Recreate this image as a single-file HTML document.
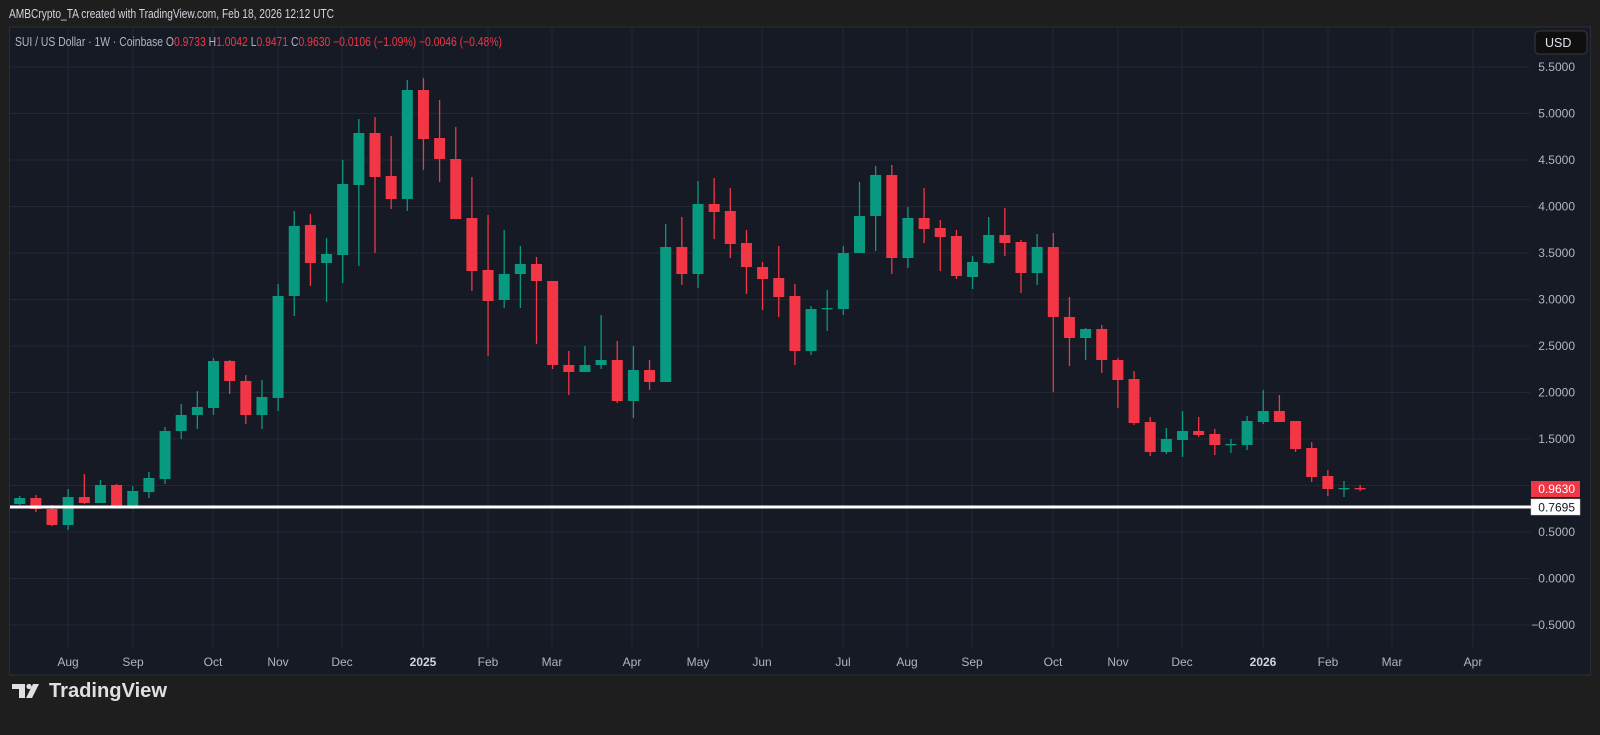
<!DOCTYPE html>
<html><head><meta charset="utf-8"><style>
html,body{margin:0;padding:0;background:#1e1e1e;width:1600px;height:735px;overflow:hidden}
svg text{font-family:"Liberation Sans",sans-serif}
</style></head><body>
<svg id="s" width="1600" height="735" xmlns="http://www.w3.org/2000/svg">
<rect x="0" y="0" width="1600" height="735" fill="#1e1e1e"/>
<rect x="9.5" y="27" width="1581" height="648" fill="#161a25" stroke="#2a2d35" stroke-width="1"/>
<g id="grid" stroke="#242835" stroke-width="1"></g>
<g id="candles"></g>
<line x1="10" y1="507" x2="1531" y2="507" stroke="#ffffff" stroke-width="3"/>
<text x="9" y="18" font-size="12.5" fill="#d1d4dc" textLength="325" lengthAdjust="spacingAndGlyphs">AMBCrypto_TA created with TradingView.com, Feb 18, 2026 12:12 UTC</text>
<text x="15" y="46" font-size="12.5" fill="#b2b5be" textLength="487" lengthAdjust="spacingAndGlyphs">SUI / US Dollar · 1W · Coinbase <tspan fill="#b2b5be">O</tspan><tspan fill="#f23645">0.9733</tspan> <tspan fill="#b2b5be">H</tspan><tspan fill="#f23645">1.0042</tspan> <tspan fill="#b2b5be">L</tspan><tspan fill="#f23645">0.9471</tspan> <tspan fill="#b2b5be">C</tspan><tspan fill="#f23645">0.9630 −0.0106 (−1.09%) −0.0046 (−0.48%)</tspan></text>
<rect x="1535" y="31" width="52" height="23" rx="4" fill="#0f0f0f" stroke="#3a3a3a"/>
<text x="1545" y="47" font-size="12.5" fill="#e0e3eb">USD</text>
<g id="ylab" font-size="12" fill="#b2b5be" text-anchor="end"></g>
<rect x="1531" y="481" width="49" height="16" fill="#f23645"/>
<text x="1575" y="493" font-size="12" fill="#ffffff" text-anchor="end">0.9630</text>
<rect x="1531" y="499" width="49" height="16" fill="#ffffff" stroke="#cccccc" stroke-width="0.5"/>
<text x="1575" y="511.5" font-size="12" fill="#131722" text-anchor="end">0.7695</text>
<g id="xlab" font-size="12" fill="#b2b5be" text-anchor="middle"></g>
<g transform="translate(12,680)">
<path d="M0 4 H13 V18 H7 V9 H0 Z" fill="#e0e0e0"/>
<circle cx="17" cy="6.5" r="2.6" fill="#e0e0e0"/>
<path d="M21 4 H27 L20 18 H14 Z" fill="#e0e0e0"/>
</g>
<text x="49" y="697" font-size="20" font-weight="bold" fill="#e0e0e0" textLength="118" lengthAdjust="spacingAndGlyphs">TradingView</text>
</svg>
<script>
var NS="http://www.w3.org/2000/svg";
function el(p,t,a,txt){var e=document.createElementNS(NS,t);for(var k in a)e.setAttribute(k,a[k]);if(txt)e.textContent=txt;p.appendChild(e);return e;}
var g=document.getElementById("grid"),yl=document.getElementById("ylab"),xl=document.getElementById("xlab");
var labs=["5.5000","5.0000","4.5000","4.0000","3.5000","3.0000","2.5000","2.0000","1.5000","1.0000","0.5000","0.0000","−0.5000"];
for(var i=0;i<13;i++){var y=67+46.5*i;el(g,"line",{x1:10,y1:y,x2:1530,y2:y});if(i!=9)el(yl,"text",{x:1575,y:y+4},labs[i]);}
var mx=[[68,"Aug"],[133,"Sep"],[213,"Oct"],[278,"Nov"],[342,"Dec"],[423,"2025"],[488,"Feb"],[552,"Mar"],[632,"Apr"],[698,"May"],[762,"Jun"],[843,"Jul"],[907,"Aug"],[972,"Sep"],[1053,"Oct"],[1118,"Nov"],[1182,"Dec"],[1263,"2026"],[1328,"Feb"],[1392,"Mar"],[1473,"Apr"]];
mx.forEach(function(m){el(g,"line",{x1:m[0],y1:28,x2:m[0],y2:647});var t=el(xl,"text",{x:m[0],y:666},m[1]);if(m[1]=="2025"||m[1]=="2026"){t.setAttribute("font-weight","bold");t.setAttribute("fill","#d1d4dc");}});
var d=[[504,498,496,505],[498,509,495,512],[509,525,505,526],[525,497,489,530],[497,503,474,504],[503,485,480,503],[485,508,484,508],[508,491,486,509],[492,478,472,498],[479,431,427,484],
[431,415,404,439],[415,407,391,429],[408,361,358,415],[361,381,360,394],[381,415,375,424],[415,397,380,429],[398,296,284,411],[296,226,211,316],[225,263,214,286],[263,254,238,302],
[255,184,160,283],[185,133,119,266],[133,177,117,253],[176,199,136,209],[199,90,80,211],[90,139,78,170],[138,159,100,182],[159,219,127,219],[218,271,177,291],[270,301,215,356],
[300,274,230,308],[274,264,246,308],[264,281,257,344],[281,365,281,369],[365,372,351,395],[372,365,346,372],[365,360,315,369],[360,401,341,403],[401,370,346,418],[370,382,360,390],
[382,247,224,382],[247,274,217,285],[274,204,181,288],[204,212,178,239],[211,244,188,258],[243,267,230,294],[267,279,262,310],[278,297,246,317],[296,351,284,365],[351,309,306,355],
[309,308,290,331],[309,253,246,315],[253,216,182,253],[216,175,166,251],[175,258,165,274],[258,218,207,268],[218,229,188,243],[228,237,220,271],[236,276,230,279],[277,262,256,289],
[263,235,217,264],[235,243,208,256],[242,273,240,293],[273,247,234,285],[247,317,233,392],[317,338,297,366],[338,329,328,360],[329,360,325,373],[360,380,358,408],[379,423,371,425],
[422,452,417,456],[452,439,428,454],[440,431,411,457],[431,435,417,437],[434,445,429,455],[444.5,444,439,453],[445,421,416,450],[422,411,390,424],[411,422,395,422],[421,449,421,452],
[448,477,442,482],[476,489,470,496],[488.5,488,481,497],[488,489.3,485,491]];
var c=document.getElementById("candles");
d.forEach(function(v,i){var x=19.7+16.15*i;var up=v[1]<=v[0];var col=up?"#089981":"#f23645";
el(c,"line",{x1:x,y1:v[2],x2:x,y2:v[3],stroke:col,"stroke-width":1.3});
var t=Math.min(v[0],v[1]),h=Math.max(Math.abs(v[0]-v[1]),1.3);
el(c,"rect",{x:x-5.5,y:t,width:11,height:h,fill:col});});
</script>
</body></html>
